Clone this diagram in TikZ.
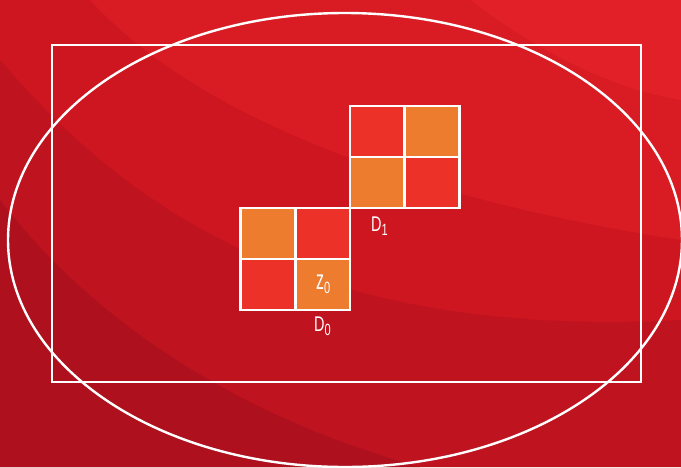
\documentclass[tikz,border=0pt]{standalone}
\usepackage{fontspec}
\setmainfont{Liberation Sans}
\usepackage{graphicx}
\usetikzlibrary{shapes.geometric}
\definecolor{bgbase}{RGB}{206,22,32}
\definecolor{bglight}{RGB}{217,27,36}
\definecolor{bglighter}{RGB}{225,32,40}
\definecolor{bgdark}{RGB}{192,19,32}
\definecolor{bgdarker}{RGB}{174,16,30}
\definecolor{cellor}{RGB}{238,124,46}
\definecolor{cellrd}{RGB}{236,50,40}
\newcommand{\lbltxt}[2]{\scalebox{0.85}[1.25]{\fontsize{17}{17}\selectfont #1\raisebox{-3pt}{\fontsize{13}{13}\selectfont #2}}}
\begin{document}
\begin{tikzpicture}[x=1pt,y=-1pt,
  cellbox/.style={draw=white,line width=2.6pt,inner sep=0pt,minimum width=54.75pt,minimum height=51pt},
  wline/.style={draw=white,line width=2.4pt},
  lbl/.style={text=white,inner sep=0pt,anchor=base west}]
\useasboundingbox (0,0) rectangle (681,467);
% background
\fill[bgbase] (0,0) rectangle (681,467);
\fill[bglight] (90,0) .. controls (200,120) and (420,200) .. (681,240) -- (681,0) -- cycle;
\fill[bglighter] (470,0) .. controls (550,60) and (620,90) .. (681,100) -- (681,0) -- cycle;
\fill[bgdark] (0,60) .. controls (120,200) and (300,340) .. (681,320) -- (681,467) -- (0,467) -- cycle;
\fill[bgdarker] (0,200) .. controls (100,330) and (250,420) .. (420,467) -- (0,467) -- cycle;
% frame and ellipse
\node[wline,rectangle,inner sep=0pt,minimum width=589pt,minimum height=337pt] (frame) at (346.5,213.5) {};
\node[wline,ellipse,inner sep=0pt,minimum width=674pt,minimum height=454pt] (oval) at (345,240) {};
% D0 grid
\node[cellbox,fill=cellor] (a11) at (267.875,233.5) {};
\node[cellbox,fill=cellrd] (a12) at (322.625,233.5) {};
\node[cellbox,fill=cellrd] (a21) at (267.875,284.5) {};
\node[cellbox,fill=cellor] (a22) at (322.625,284.5) {};
% D1 grid
\node[cellbox,fill=cellrd] (b11) at (377.375,131.5) {};
\node[cellbox,fill=cellor] (b12) at (432.125,131.5) {};
\node[cellbox,fill=cellor] (b21) at (377.375,182.5) {};
\node[cellbox,fill=cellrd] (b22) at (432.125,182.5) {};
% labels
\node[lbl] (z0) at (316,289.5) {\scalebox{0.85}[1.25]{\fontsize{17}{17}\selectfont\scalebox{1.1}[1.3]{z}\raisebox{-3pt}{\fontsize{13}{13}\selectfont 0}}};
\node[lbl] (d0) at (314,331.5) {\lbltxt{D}{0}};
\node[lbl] (d1) at (371,231.5) {\lbltxt{D}{1}};
\end{tikzpicture}
\end{document}
